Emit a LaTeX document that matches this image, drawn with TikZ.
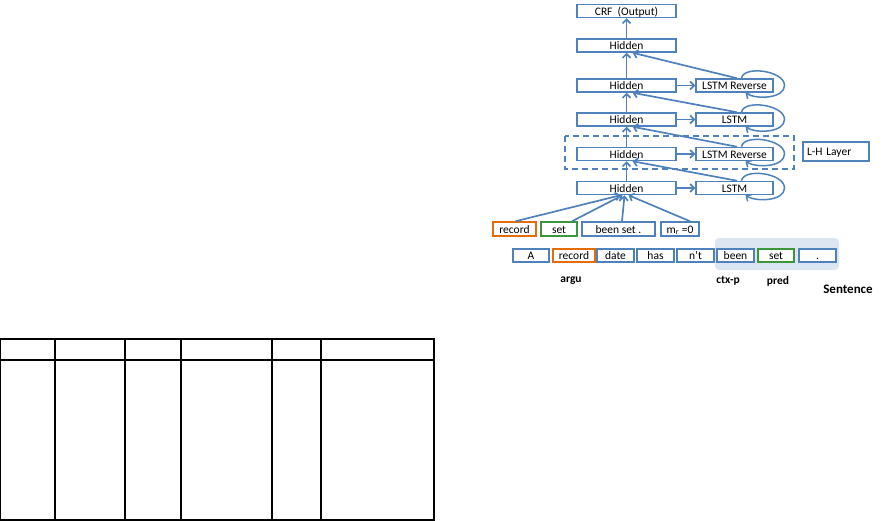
\documentclass[tikz,border=0pt]{standalone}
\usepackage{fontspec}
\setmainfont{Carlito}
\usetikzlibrary{arrows.meta}
\definecolor{boxblue}{RGB}{79,129,189}
\definecolor{argorange}{RGB}{228,108,10}
\definecolor{predgreen}{RGB}{60,150,60}
\definecolor{ctxshade}{RGB}{220,230,242}
\tikzset{
  box/.style={draw=boxblue, line width=1.5pt, fill=white, inner sep=0pt, minimum height=13pt, text height=8.3pt, text depth=0pt, font=\fontsize{11.5}{12}\selectfont},
  hid/.style={box, minimum width=99pt},
  rnn/.style={box, minimum width=77pt},
  word/.style={box, minimum width=37pt},
  conn/.style={draw=boxblue, line width=1.7pt, -{Straight Barb[length=4pt,width=8pt]}},
  selfloop/.style={draw=boxblue, line width=1.5pt, -{Straight Barb[length=4pt,width=8pt]}},
  tag/.style={font=\bfseries\fontsize{11.5}{12}\selectfont},
}
\begin{document}
\begin{tikzpicture}[x=1pt,y=-1pt]
\useasboundingbox (0,0) rectangle (885,521);
% empty table
\draw[line width=1.1pt] (0,339) rectangle (434,520);
\draw[line width=1.1pt] (0,360) -- (434,360);
\foreach \x in {55,125,181,272,321} \draw[line width=1.1pt] (\x,339) -- (\x,520);
% network
\fill[ctxshade, rounded corners=4pt] (715,238) rectangle (839,270);
\draw[boxblue, line width=1.5pt, dash pattern=on 6pt off 4pt] (565,136) rectangle (794,169);
\node[hid] (crf) at (626.5,11) {CRF \ (Output)};
\node[hid] (h1) at (626.5,45.5) {Hidden};
\node[hid] (h2) at (626.5,85.5) {Hidden};
\node[hid] (h3) at (626.5,119.5) {Hidden};
\node[hid] (h4) at (626.5,154) {Hidden};
\node[hid] (h5) at (626.5,188) {Hidden};
\node[rnn] (r2) at (734.5,85.5) {LSTM Reverse};
\node[rnn] (l3) at (734.5,119.5) {LSTM};
\node[rnn] (r4) at (734.5,154) {LSTM Reverse};
\node[rnn] (l5) at (734.5,188) {LSTM};
\node[box, minimum width=66pt, minimum height=19pt, text width=58pt, align=left] (lh) at (836,151.5) {L-H Layer};
\node[box, draw=argorange, minimum width=43pt, minimum height=14pt] (inRec) at (514.5,229) {record};
\node[box, draw=predgreen, minimum width=36pt, minimum height=14pt] (inSet) at (559,229) {set};
\node[box, minimum width=73pt, minimum height=14pt] (inBeen) at (618.5,229) {been set .};
\node[box, minimum width=38pt, minimum height=14pt] (inMr) at (680,229) {m\textsubscript{\textit{r}} =0};
\node[word, minimum width=36pt] (wA) at (531,255.5) {A};
\node[word, draw=argorange, minimum width=42pt] (wRecord) at (574,255.5) {record};
\node[word] (wDate) at (615.5,255.5) {date};
\node[word] (wHas) at (655.5,255.5) {has};
\node[word] (wNt) at (695.5,255.5) {n't};
\node[word] (wBeen) at (735.5,255.5) {been};
\node[word, draw=predgreen, minimum width=36pt] (wSet) at (776,255.5) {set};
\node[word] (wDot) at (817.5,255.5) {.};
\node[tag] (argu) at (571,281) {argu};
\node[tag] (ctxp) at (728,281) {ctx-p};
\node[tag] (pred) at (778,281) {pred};
\node[font=\bfseries\fontsize{13}{14}\selectfont] (sent) at (848,289) {Sentence};
\draw[conn] (h1) -- (crf);
\draw[conn] (h2) -- (h1);
\draw[conn] (h3) -- (h2);
\draw[conn] (h4) -- (h3);
\draw[conn] (h5) -- (h4);
\draw[conn] (h2) -- (r2);
\draw[conn] (h3) -- (l3);
\draw[conn] (h4) -- (r4);
\draw[conn] (h5) -- (l5);
\draw[conn] ([xshift=2.5pt]r2.north) -- ([xshift=6pt]h1.south);
\draw[conn] ([xshift=2.5pt]l3.north) -- ([xshift=6pt]h2.south);
\draw[conn] ([xshift=2.5pt]r4.north) -- ([xshift=6pt]h3.south);
\draw[conn] ([xshift=2.5pt]l5.north) -- ([xshift=6pt]h4.south);
\foreach \n in {r2,l3,r4,l5}
  \draw[selfloop] ([xshift=7pt]\n.north) .. controls +(2,-13) and +(0,-15) .. ([xshift=50pt]\n.center) .. controls +(0,13) and +(11,7) .. ([xshift=11pt]\n.south);
\draw[conn] ([xshift=1pt]inRec.north) -- ([xshift=-6pt]h5.south);
\draw[conn] ([xshift=13pt]inSet.north) -- ([xshift=-4pt]h5.south);
\draw[conn] ([xshift=3.5pt]inBeen.north) -- ([xshift=-2pt]h5.south);
\draw[conn] ([xshift=10pt]inMr.north) -- ([xshift=2pt]h5.south);
\end{tikzpicture}
\end{document}
